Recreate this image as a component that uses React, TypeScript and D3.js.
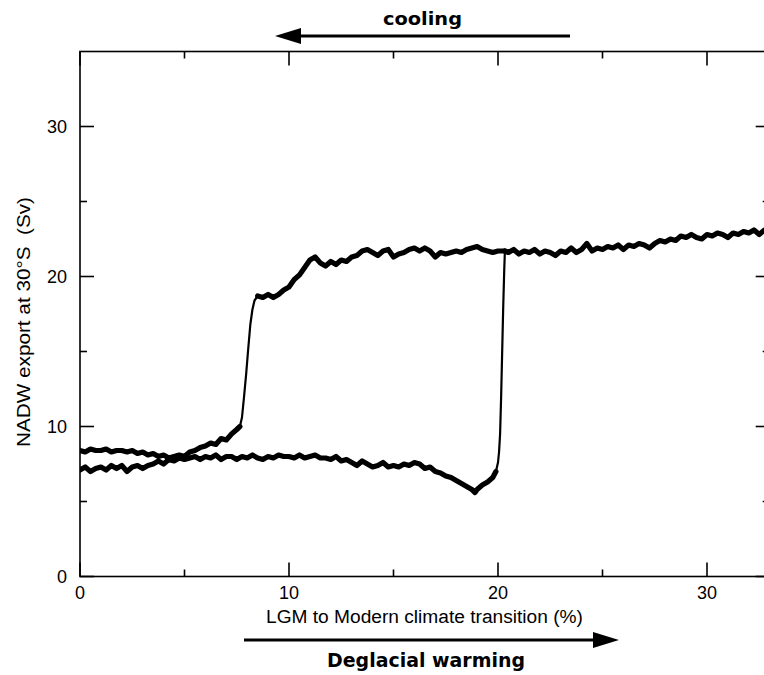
import React from "react";
import * as d3 from "d3";

// Warming branch (lower path, then abrupt jump near 20%, then upper plateau)
const warmX = [0,0.25,0.5,0.75,1,1.25,1.5,1.75,2,2.25,2.5,2.75,3,3.25,3.5,3.75,4,4.25,4.5,4.75,5,5.25,5.5,5.75,6,6.25,6.5,6.75,7,7.25,7.5,7.75,8,8.25,8.5,8.75,9,9.25,9.5,9.75,10,10.25,10.5,10.75,11,11.25,11.5,11.75,12,12.25,12.5,12.75,13,13.25,13.5,13.75,14,14.25,14.5,14.75,15,15.25,15.5,15.75,16,16.25,16.5,16.75,17,17.25,17.5,17.75,18,18.25,18.5,18.75,18.9,19,19.25,19.5,19.75,19.9,20,20.05,20.1,20.15,20.2,20.25,20.3,20.33,20.5,20.75,21,21.25,21.5,21.75,22,22.25,22.5,22.75,23,23.25,23.5,23.75,24,24.25,24.5,24.75,25,25.25,25.5,25.75,26,26.25,26.5,26.75,27,27.25,27.5,27.75,28,28.25,28.5,28.75,29,29.25,29.5,29.75,30,30.25,30.5,30.75,31,31.25,31.5,31.75,32,32.25,32.5,32.75,33];
const warmY = [7.1,7.3,7.0,7.2,7.3,7.1,7.4,7.2,7.4,7.0,7.3,7.4,7.2,7.4,7.5,7.7,7.5,7.8,7.7,7.9,7.8,7.9,8.0,7.8,8.0,7.9,8.1,7.8,8.0,8.0,7.8,8.0,7.9,8.1,7.9,7.8,8.0,7.9,8.1,8.0,8.0,7.9,8.1,7.9,8.0,8.1,7.9,7.9,7.8,8.0,7.7,7.8,7.6,7.4,7.7,7.5,7.3,7.4,7.6,7.3,7.4,7.3,7.5,7.4,7.6,7.5,7.2,7.3,7.0,6.9,6.7,6.6,6.4,6.2,6.0,5.8,5.6,5.8,6.1,6.3,6.6,7.0,7.6,8.3,9.5,12,15,18,20.5,21.7,21.6,21.8,21.5,21.7,21.6,21.8,21.5,21.7,21.6,21.4,21.7,21.6,21.9,21.6,21.8,22.2,21.7,21.9,21.8,22.0,21.9,22.1,21.8,22.1,22.0,22.2,22.1,21.9,22.2,22.4,22.3,22.5,22.4,22.7,22.6,22.8,22.6,22.5,22.8,22.7,22.9,22.8,22.6,22.9,22.8,23.0,22.9,23.1,22.8,23.1,23.0];

// Cooling branch (upper path, abrupt drop near 8%)
const coolX = [0,0.25,0.5,0.75,1,1.25,1.5,1.75,2,2.25,2.5,2.75,3,3.25,3.5,3.75,4,4.25,4.5,4.75,5,5.25,5.5,5.75,6,6.25,6.5,6.75,7,7.25,7.5,7.65,7.75,7.85,7.95,8.05,8.15,8.25,8.35,8.5,8.75,9,9.25,9.5,9.75,10,10.25,10.5,10.75,11,11.25,11.5,11.75,12,12.25,12.5,12.75,13,13.25,13.5,13.75,14,14.25,14.5,14.75,15,15.25,15.5,15.75,16,16.25,16.5,16.75,17,17.25,17.5,17.75,18,18.25,18.5,18.75,19,19.25,19.5,19.75,20,20.33];
const coolY = [8.4,8.3,8.5,8.4,8.4,8.5,8.3,8.4,8.4,8.3,8.4,8.2,8.3,8.1,8.2,8.0,8.1,7.9,8.0,8.1,8.0,8.3,8.4,8.6,8.7,8.9,8.8,9.2,9.1,9.5,9.8,10.0,10.6,12,13.5,15.2,16.8,17.8,18.4,18.7,18.6,18.8,18.6,18.8,19.1,19.3,19.8,20.1,20.6,21.1,21.3,20.9,20.7,21.0,20.8,21.1,21.0,21.3,21.4,21.7,21.8,21.6,21.4,21.7,21.8,21.3,21.5,21.6,21.8,21.9,21.7,21.9,21.7,21.3,21.6,21.5,21.6,21.7,21.6,21.8,21.9,22.0,21.8,21.7,21.6,21.7,21.7];

const xMajor = [0, 10, 20, 30];
const xMinor = [5, 15, 25];
const yMajor = [0, 10, 20, 30];
const yMinor = [5, 15, 25];

export default function App() {
  const W = 764, H = 675;
  const x = d3.scaleLinear().domain([0, 33]).range([80, 769.7]);
  const y = d3.scaleLinear().domain([0, 35]).range([576.5, 51.5]);
  const L = x(0), R = x(33), T = y(35), B = y(0);

  const warm = warmX.map((v, i) => [v, warmY[i]] as [number, number]);
  const cool = coolX.map((v, i) => [v, coolY[i]] as [number, number]);

  const thin = d3.line<[number, number]>().x(d => x(d[0])).y(d => y(d[1]));
  const thickWarm = d3.line<[number, number]>()
    .defined(d => !(d[0] > 19.92 && d[0] < 20.33))
    .x(d => x(d[0])).y(d => y(d[1]));
  const thickCool = d3.line<[number, number]>()
    .defined(d => !(d[0] > 7.66 && d[0] < 8.5))
    .x(d => x(d[0])).y(d => y(d[1]));

  const font = "'Liberation Sans', Arial, sans-serif";
  const bold = "'DejaVu Sans', sans-serif";
  const maj = 14, mn = 7;

  return (
    <svg width={W} height={H} style={{ position: "absolute", left: 0, top: 0, background: "#fff" }}>
      <defs>
        <clipPath id="plot">
          <rect x={L} y={T} width={R - L} height={B - T} />
        </clipPath>
      </defs>
      <rect x={0} y={0} width={W} height={H} fill="#fff" />

      {/* data */}
      <g clipPath="url(#plot)" fill="none" stroke="#000" strokeLinejoin="round" strokeLinecap="round">
        <path d={thin(warm) || ""} strokeWidth={2.2} />
        <path d={thin(cool) || ""} strokeWidth={2.2} />
        <path d={thickWarm(warm) || ""} strokeWidth={5.2} />
        <path d={thickCool(cool) || ""} strokeWidth={5.2} />
      </g>

      {/* frame */}
      <rect x={L} y={T} width={R - L} height={B - T} fill="none" stroke="#000" strokeWidth={1.6} />

      {/* x ticks */}
      {xMajor.map(v => (
        <g key={"xm" + v} stroke="#000" strokeWidth={1.6}>
          <line x1={x(v)} x2={x(v)} y1={B} y2={B - maj} />
          <line x1={x(v)} x2={x(v)} y1={T} y2={T + maj} />
        </g>
      ))}
      {xMinor.map(v => (
        <g key={"xn" + v} stroke="#000" strokeWidth={1.6}>
          <line x1={x(v)} x2={x(v)} y1={B} y2={B - mn} />
          <line x1={x(v)} x2={x(v)} y1={T} y2={T + mn} />
        </g>
      ))}
      {/* y ticks */}
      {yMajor.map(v => (
        <g key={"ym" + v} stroke="#000" strokeWidth={1.6}>
          <line x1={L} x2={L + maj} y1={y(v)} y2={y(v)} />
          <line x1={R} x2={R - maj} y1={y(v)} y2={y(v)} />
        </g>
      ))}
      {yMinor.map(v => (
        <g key={"yn" + v} stroke="#000" strokeWidth={1.6}>
          <line x1={L} x2={L + mn} y1={y(v)} y2={y(v)} />
          <line x1={R} x2={R - mn} y1={y(v)} y2={y(v)} />
        </g>
      ))}

      {/* tick labels */}
      {xMajor.map(v => (
        <text key={"xl" + v} x={x(v)} y={599} textAnchor="middle" fontFamily={font} fontSize={18} fill="#000">{v}</text>
      ))}
      {yMajor.map(v => (
        <text key={"yl" + v} x={67} y={y(v) + 6.5} textAnchor="end" fontFamily={font} fontSize={18} fill="#000">{v}</text>
      ))}

      {/* axis titles */}
      <text x={424.5} y={623} textAnchor="middle" fontFamily={font} fontSize={18} textLength={317} lengthAdjust="spacingAndGlyphs" fill="#000">LGM to Modern climate transition (%)</text>
      <text transform="translate(30,322) rotate(-90)" textAnchor="middle" fontFamily={font} fontSize={19} textLength={250} lengthAdjust="spacingAndGlyphs" style={{ whiteSpace: "pre" }} fill="#000">NADW export at 30°S  (Sv)</text>

      {/* cooling arrow */}
      <text x={422.5} y={25} textAnchor="middle" fontFamily={bold} fontSize={18} fontWeight="bold" textLength={79} lengthAdjust="spacingAndGlyphs" fill="#000">cooling</text>
      <line x1={570} x2={298} y1={36} y2={36} stroke="#000" strokeWidth={3} />
      <path d="M275,36 L301,28 L301,44 Z" fill="#000" />

      {/* warming arrow */}
      <line x1={244} x2={596} y1={640} y2={640} stroke="#000" strokeWidth={3} />
      <path d="M619,640 L593,632 L593,648 Z" fill="#000" />
      <text x={426} y={667} textAnchor="middle" fontFamily={bold} fontSize={19} fontWeight="bold" textLength={198} lengthAdjust="spacingAndGlyphs" fill="#000">Deglacial warming</text>
    </svg>
  );
}
